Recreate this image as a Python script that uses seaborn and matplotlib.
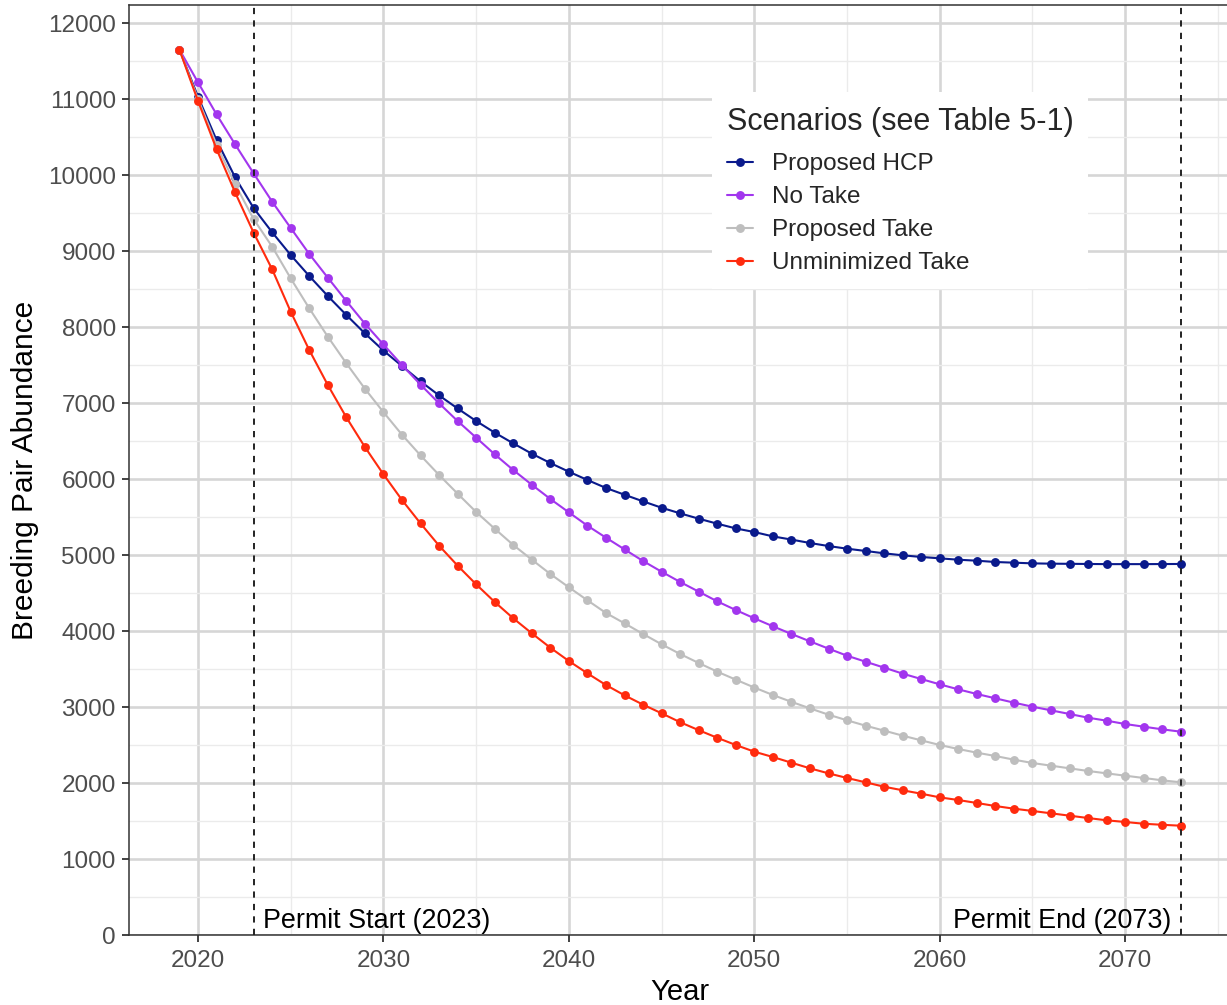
import matplotlib
matplotlib.use("Agg")
import matplotlib.pyplot as plt
from matplotlib.ticker import MultipleLocator
import numpy as np
import pandas as pd
import seaborn as sns

sns.set_theme(style="white")
plt.rcParams['font.family'] = ['Liberation Sans', 'DejaVu Sans']

years = list(range(2019, 2074))

proposed_hcp = [
    11650, 11030, 10460, 9970, 9565, 9246, 8947, 8671, 8408, 8158,
    7916, 7690, 7487, 7285, 7100, 6928, 6763, 6610, 6469, 6333,
    6210, 6096, 5987, 5882, 5793, 5706, 5622, 5548, 5478, 5412,
    5350, 5302, 5245, 5203, 5158, 5118, 5083, 5053, 5022, 4996,
    4974, 4956, 4938, 4925, 4908, 4899, 4890, 4886, 4884, 4882,
    4880, 4880, 4880, 4881, 4882]
no_take = [
    11650, 11219, 10798, 10404, 10022, 9649, 9303, 8961, 8649, 8342,
    8044, 7770, 7500, 7242, 6996, 6763, 6544, 6325, 6118, 5925,
    5737, 5561, 5386, 5228, 5074, 4921, 4780, 4645, 4518, 4390,
    4276, 4167, 4062, 3961, 3864, 3768, 3675, 3596, 3518, 3439,
    3368, 3298, 3232, 3171, 3114, 3057, 3004, 2956, 2908, 2859,
    2820, 2776, 2741, 2706, 2675]
proposed_take = [
    11650, 11000, 10400, 9880, 9420, 9057, 8640, 8246, 7873, 7522,
    7188, 6880, 6583, 6311, 6053, 5807, 5566, 5346, 5132, 4939,
    4750, 4575, 4404, 4237, 4101, 3961, 3825, 3697, 3579, 3465,
    3360, 3256, 3158, 3068, 2982, 2899, 2825, 2754, 2689, 2623,
    2561, 2500, 2447, 2399, 2355, 2307, 2263, 2228, 2193, 2158,
    2127, 2096, 2066, 2035, 2009]
unminimized_take = [
    11650, 10974, 10342, 9772, 9241, 8759, 8201, 7697, 7237, 6811,
    6421, 6062, 5724, 5416, 5123, 4860, 4614, 4382, 4167, 3970,
    3780, 3605, 3443, 3289, 3154, 3031, 2917, 2800, 2695, 2595,
    2500, 2412, 2342, 2267, 2193, 2127, 2066, 2009, 1951, 1904,
    1859, 1811, 1776, 1737, 1697, 1662, 1632, 1601, 1570, 1539,
    1509, 1487, 1464, 1450, 1438]

scenarios = ["Proposed HCP", "No Take", "Proposed Take", "Unminimized Take"]
colors = ["#0A1A8C", "#A236EE", "#BEBEBE", "#FF2B0E"]
permit_start = 2023
permit_end = 2073

df = pd.concat([
    pd.DataFrame({"Year": years, "Abundance": vals, "Scenario": name})
    for name, vals in zip(scenarios, [proposed_hcp, no_take, proposed_take, unminimized_take])
])

fig = plt.figure(figsize=(12.27, 10.05), dpi=100)
ax = fig.add_axes([129 / 1227, 70 / 1005, 1101 / 1227, 930 / 1005])

# grid like theme_bw
ax.xaxis.set_major_locator(MultipleLocator(10))
ax.xaxis.set_minor_locator(MultipleLocator(5))
ax.yaxis.set_major_locator(MultipleLocator(1000))
ax.yaxis.set_minor_locator(MultipleLocator(500))
ax.grid(which="major", color="#D6D6D6", linewidth=1.9, zorder=0)
ax.grid(which="minor", color="#EBEBEB", linewidth=1.0, zorder=0)
ax.set_axisbelow(True)

sns.lineplot(data=df, x="Year", y="Abundance", hue="Scenario",
             hue_order=scenarios, palette=colors, marker="o",
             markersize=6.4, markeredgewidth=0, linewidth=1.5, ax=ax)

for yr in (permit_start, permit_end):
    ax.axvline(yr, color="#222222", linestyle=(0, (3.2, 3.2)), linewidth=1.4, zorder=5)

ax.text(permit_start + 0.5, 12, "Permit Start (2023)", fontsize=19.4,
        ha="left", va="bottom", color="black")
ax.text(permit_end - 0.5, 12, "Permit End (2073)", fontsize=19.4,
        ha="right", va="bottom", color="black")

ax.set_xlim(2016.28, 2075.65)
ax.set_ylim(0, 12237)

for s in ax.spines.values():
    s.set_color("#333333")
    s.set_linewidth(1.1)

ax.tick_params(axis="both", which="major", length=5, width=1.3, color="#333333",
               labelsize=17.5, labelcolor="#4D4D4D", left=True, bottom=True)
ax.tick_params(axis="x", pad=6)
ax.tick_params(axis="y", pad=4.5)
ax.tick_params(which="minor", length=0)

ax.set_xlabel("Year", fontsize=21, color="black", labelpad=4)
ax.set_ylabel("Breeding Pair Abundance", fontsize=21.5, color="black", labelpad=6)

leg = ax.legend(title="Scenarios (see Table 5-1)", loc="upper left",
                bbox_to_anchor=((712 - 129) / 1101, (935 - 92) / 930),
                borderaxespad=0,
                frameon=True, facecolor="white", edgecolor="none", framealpha=1,
                fontsize=17.5, title_fontsize=22, handlelength=1.1,
                handletextpad=0.75, labelspacing=0.45, borderpad=0.6,
                alignment="left", fancybox=False)
leg._legend_box.sep = 12
leg.set_zorder(10)

fig.savefig("out.png", dpi=100)
